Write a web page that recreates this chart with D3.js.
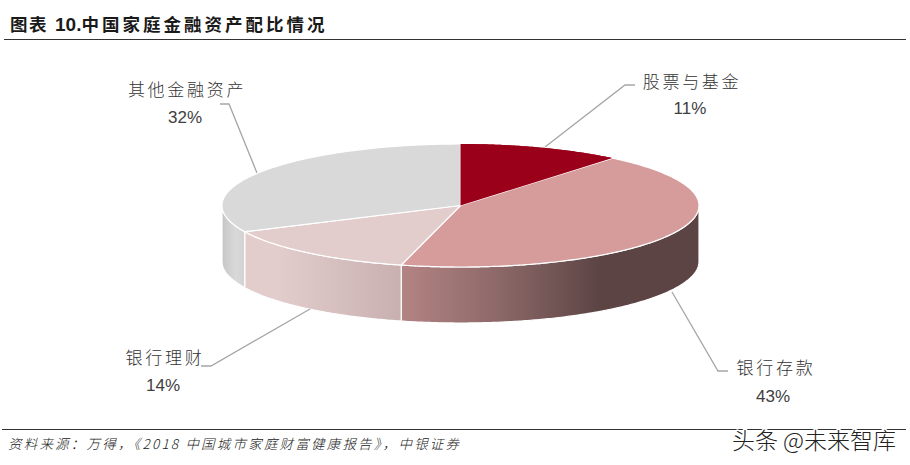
<!DOCTYPE html>
<html><head><meta charset="utf-8">
<script src="https://cdn.jsdelivr.net/npm/d3@7/dist/d3.min.js"></script>
<style>html,body{margin:0;padding:0;background:#fff}svg{display:block}</style></head>
<body><svg id="c" width="910" height="465"></svg>
<script>
const categories = ["股票与基金","银行存款","银行理财","其他金融资产"];
const values = [11,43,14,32];
const valueLabels = ["11%","43%","14%","32%"];
const titleHead = "图表";
const titleNumber = "10.";
const titleBody = "中国家庭金融资产配比情况";
const sourceText = "资料来源\uFF1A万得\uFF0C《2018 中国城市家庭财富健康报告》\uFF0C中银证券";
const watermarkText = "头条 @未来智库";
const faceColors = ["#9a0019","#d69c9c","#e3cdcc","#d9d9d9"];

// callout layout, in page pixels, same order as categories
const calloutLines = [
  [[545,147],[625,85],[635,85]],
  [[672,292],[718,371],[728,371]],
  [[310,309],[211,366],[201,366]],
  [[257,173],[229,104],[220,104]]
];
const nameAnchors = [[692,80],[776,366],[165,356],[187,88]];
const valueAnchors = [[690,108],[773,396],[163,385],[185,117]];

const cx=460.5, cy=205.5, rx=238.5, ry=61.5, depth=56;
const svg=d3.select("#c");
const CJK='"Noto Sans CJK SC","Noto Sans CJK JP",sans-serif';
const LAT='"Liberation Sans",Arial,sans-serif';

const sx=d3.scaleLinear().domain([-1,1]).range([cx-rx,cx+rx]);
const sy=d3.scaleLinear().domain([-1,1]).range([cy-ry,cy+ry]);
const px=a=>sx(Math.sin(a)), py=a=>sy(-Math.cos(a));

const arcs=d3.pie().sort(null).value(d=>d)(values);
const sweep=(a,b)=>{const n=Math.max(2,Math.ceil(Math.abs(b-a)/0.01));return d3.range(n+1).map(i=>a+(b-a)*i/n);};

// gradients
const defs=svg.append("defs");
const grads=[
 {id:"wall1",stops:[[0,"#b48484"],[0.33,"#8c6868"],[0.67,"#5c4444"],[1,"#5c4444"]]},
 {id:"wall2",stops:[[0,"#e3cdcc"],[0.2,"#e3cdcc"],[1,"#c8b0b0"]]},
 {id:"wall3",stops:[[0,"#c6c6c6"],[0.6,"#d9d9d9"],[1,"#d2d2d2"]]}
];
grads.forEach(g=>{
  const lg=defs.append("linearGradient").attr("id",g.id).attr("x1",0).attr("x2",1).attr("y1",0).attr("y2",0);
  g.stops.forEach(s=>lg.append("stop").attr("offset",s[0]).attr("stop-color",s[1]));
});

// side walls (front half of the ellipse only)
const wall=d3.area().x(px).y0(py).y1(a=>py(a)+depth);
const F=Math.PI/2, B=3*Math.PI/2;
arcs.forEach((d,i)=>{
  const a=Math.max(d.startAngle,F), b=Math.min(d.endAngle,B);
  if(b<=a) return;
  svg.append("path").attr("d",wall(sweep(a,b)))
    .attr("fill",`url(#wall${i})`).attr("stroke","#fff").attr("stroke-width",1.2);
});

// leader lines drawn beneath the pie faces
const leader=d3.line();
svg.selectAll("path.leader").data(calloutLines).join("path").attr("class","leader")
  .attr("d",leader).attr("fill","none").attr("stroke","#a6a6a6").attr("stroke-width",1.3);

// top faces
const face=d=>d3.line()([[sx(0),sy(0)],...sweep(d.startAngle,d.endAngle).map(a=>[px(a),py(a)])])+"Z";
svg.selectAll("path.face").data(arcs).join("path").attr("class","face")
  .attr("d",face).attr("fill",(d,i)=>faceColors[i])
  .attr("stroke",(d,i)=>i===0?"none":"#fff").attr("stroke-width",1.2).attr("stroke-linejoin","round");
// keep the red/gray seam clean at the top
svg.append("path").attr("d",face(arcs[0])).attr("fill",faceColors[0]);

// labels
svg.selectAll("text.name").data(categories).join("text").attr("class","name")
  .attr("x",(d,i)=>nameAnchors[i][0]).attr("y",(d,i)=>nameAnchors[i][1])
  .attr("text-anchor","middle").attr("dominant-baseline","central")
  .attr("font-family",CJK).attr("font-size",17).attr("letter-spacing",2.7).attr("font-weight",300)
  .attr("fill","#333").text(d=>d);
svg.selectAll("text.val").data(valueLabels).join("text").attr("class","val")
  .attr("x",(d,i)=>valueAnchors[i][0]).attr("y",(d,i)=>valueAnchors[i][1])
  .attr("text-anchor","middle").attr("dominant-baseline","central")
  .attr("font-family",LAT).attr("font-size",17).attr("fill","#404040").text(d=>d);

// title + rules
const title=svg.append("text").attr("y",31).attr("fill","#1a1a1a").attr("font-weight",700);
title.append("tspan").attr("x",10).attr("font-family",CJK).attr("font-size",17.5).attr("letter-spacing",1.5).text(titleHead);
title.append("tspan").attr("x",55).attr("font-family",LAT).attr("font-size",19).text(titleNumber);
title.append("tspan").attr("x",81.5).attr("font-family",CJK).attr("font-size",17.5).attr("letter-spacing",3).text(titleBody);
svg.append("line").attr("x1",4).attr("x2",906).attr("y1",39.5).attr("y2",39.5).attr("stroke","#333").attr("stroke-width",1.2);
svg.append("line").attr("x1",2).attr("x2",906).attr("y1",429.5).attr("y2",429.5).attr("stroke","#333").attr("stroke-width",1.2);

// footer
svg.append("text").attr("x",8).attr("y",449).attr("font-family",CJK).attr("font-size",13.5).attr("letter-spacing",2.2)
  .attr("font-style","italic").attr("font-weight",300).attr("fill","#222").text(sourceText);

// watermark
svg.append("text").attr("x",732).attr("y",449).attr("font-family",CJK).attr("font-size",23).attr("font-weight",300)
  .attr("fill","#222").attr("stroke","#fff").attr("stroke-width",3).attr("paint-order","stroke").text(watermarkText);
</script></body></html>
